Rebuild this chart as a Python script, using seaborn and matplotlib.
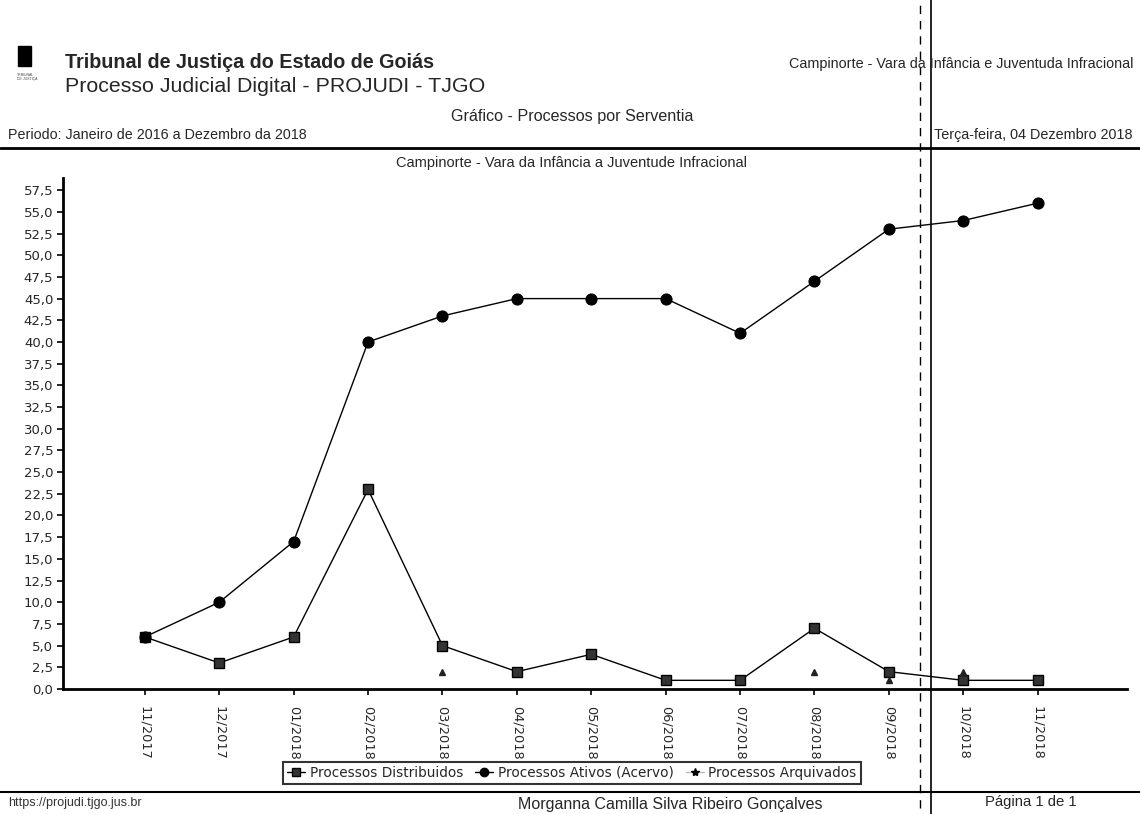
import matplotlib
matplotlib.use("Agg")
import matplotlib.pyplot as plt
from matplotlib.lines import Line2D
from matplotlib.patches import Rectangle
from matplotlib.ticker import FuncFormatter, MultipleLocator
import numpy as np
import pandas as pd
import seaborn as sns

# Monthly series for the court unit
months = ["11/2017", "12/2017", "01/2018", "02/2018", "03/2018", "04/2018", "05/2018",
          "06/2018", "07/2018", "08/2018", "09/2018", "10/2018", "11/2018"]
distribuidos = [6, 3, 6, 23, 5, 2, 4, 1, 1, 7, 2, 1, 1]
ativos = [6, 10, 17, 40, 43, 45, 45, 45, 41, 47, 53, 54, 56]
arquivados = [np.nan, np.nan, np.nan, np.nan, 2, np.nan, np.nan, np.nan, np.nan, 2, 1, 2, np.nan]

series_names = ["Processos Distribuidos", "Processos Ativos (Acervo)", "Processos Arquivados"]

sns.set_style("ticks")
plt.rcParams["font.family"] = ["DejaVu Sans"]

W, H = 1140, 814
fig = plt.figure(figsize=(W / 100, H / 100), dpi=100)


def fx(px):
    return px / W


def fy(py):
    return 1 - py / H


ax = fig.add_axes([fx(63), fy(689), fx(1127) - fx(63), fy(178) - fy(689)])

df = pd.DataFrame({"idx": np.arange(len(months)),
                   "dist": distribuidos, "ativ": ativos, "arq": arquivados})

sns.lineplot(data=df, x="idx", y="dist", ax=ax, color="black", linewidth=1.0,
             marker="s", markersize=7, markerfacecolor="#333333",
             markeredgecolor="black", markeredgewidth=1.0)
sns.lineplot(data=df, x="idx", y="ativ", ax=ax, color="black", linewidth=1.0,
             marker="o", markersize=8, markerfacecolor="black",
             markeredgecolor="black")
ax.plot(df["idx"], df["arq"], linestyle="none", marker="^", markersize=4,
        color="#222222")

ax.set_xlim(-1.1, 13.2)
ax.set_ylim(0, 58.9)
ax.yaxis.set_major_locator(MultipleLocator(2.5))
ax.yaxis.set_major_formatter(FuncFormatter(lambda v, p: f"{v:.1f}".replace(".", ",")))
ax.set_xticks(np.arange(len(months)))
ax.set_xticklabels(months, rotation=-90, fontsize=9.3, va="top")
ax.tick_params(axis="y", labelsize=9.5, length=4, width=1.2, color="black", pad=3)
ax.tick_params(axis="x", length=4, width=1.2, color="black", pad=8)
ax.set_xlabel("")
ax.set_ylabel("")
for s in ["top", "right"]:
    ax.spines[s].set_visible(False)
for s in ["left", "bottom"]:
    ax.spines[s].set_linewidth(2)
    ax.spines[s].set_color("black")

# Legend below the plot
handles = [
    Line2D([], [], color="black", linewidth=1, marker="s", markersize=6,
           markerfacecolor="#333333"),
    Line2D([], [], color="black", linewidth=1, marker="o", markersize=6),
    Line2D([], [], color="#bbbbbb", linewidth=1, marker="*", markersize=6,
           markerfacecolor="black", markeredgecolor="black"),
]
leg = fig.legend(handles, series_names, loc="center", bbox_to_anchor=(fx(572), fy(773)),
                 ncol=3, fontsize=9.8, frameon=True, fancybox=False, handlelength=1.3,
                 handletextpad=0.35, columnspacing=0.9, borderpad=0.3)
leg.get_frame().set_edgecolor("black")
leg.get_frame().set_linewidth(1.5)

# Page header
sans = ["Liberation Sans", "DejaVu Sans"]
fig.patches.append(Rectangle((fx(18), fy(66)), fx(13), fy(46) - fy(66),
                             transform=fig.transFigure, color="black"))
fig.text(fx(17), fy(77), "TRIBUNAL\nDE JUSTIÇA", fontsize=2.5, family=sans,
         va="center", ha="left", color="#444444")
fig.text(fx(65), fy(63), "Tribunal de Justiça do Estado de Goiás", fontsize=14.2,
         fontweight="bold", family=sans, va="center", ha="left")
fig.text(fx(65), fy(87), "Processo Judicial Digital - PROJUDI - TJGO", fontsize=15.4,
         family=sans, va="center", ha="left")
fig.text(fx(1133), fy(64), "Campinorte - Vara da Infância e Juventuda Infracional",
         fontsize=10.4, family=sans, va="center", ha="right")
fig.text(fx(572), fy(116), "Gráfico - Processos por Serventia", fontsize=11.6,
         family=sans, va="center", ha="center")
fig.text(fx(8), fy(135), "Periodo: Janeiro de 2016 a Dezembro da 2018", fontsize=10.3,
         family=sans, va="center", ha="left")
fig.text(fx(1133), fy(135), "Terça-feira, 04 Dezembro 2018", fontsize=10.4,
         family=sans, va="center", ha="right")
fig.add_artist(Line2D([0, 1], [fy(148), fy(148)], transform=fig.transFigure,
                      color="black", linewidth=2))
fig.text(fx(572), fy(163), "Campinorte - Vara da Infância a Juventude Infracional",
         fontsize=10.5, family=sans, va="center", ha="center")

# Page footer
fig.add_artist(Line2D([0, 1], [fy(792), fy(792)], transform=fig.transFigure,
                      color="black", linewidth=1.5))
fig.text(fx(8), fy(803), "https://projudi.tjgo.jus.br", fontsize=9, family=sans,
         va="center", ha="left", color="#333333")
fig.text(fx(670), fy(804), "Morganna Camilla Silva Ribeiro Gonçalves", fontsize=11.5,
         family=sans, va="center", ha="center")
fig.text(fx(1031), fy(802), "Página 1 de 1", fontsize=10.7, family=sans,
         va="center", ha="center")

# Page fold marks
fig.add_artist(Line2D([fx(931), fx(931)], [0, 1], transform=fig.transFigure,
                      color="black", linewidth=1.2))
fig.add_artist(Line2D([fx(920), fx(920)], [fy(808), fy(5)], transform=fig.transFigure,
                      color="black", linewidth=1.0, linestyle=(0, (6, 5))))

fig.savefig("out.png", dpi=100, facecolor="white")
